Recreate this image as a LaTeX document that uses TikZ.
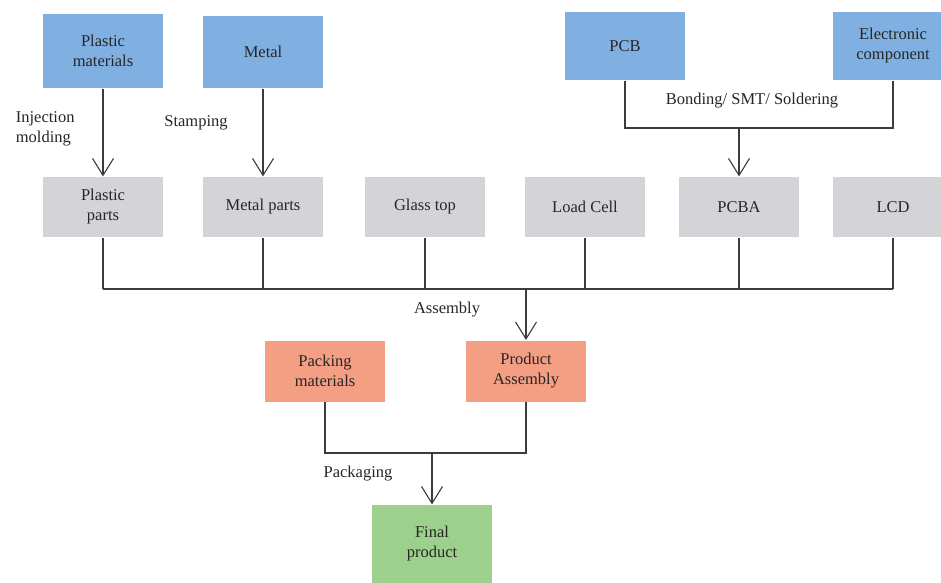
\documentclass[tikz,border=0pt]{standalone}
\usepackage{fontspec}
\setmainfont{Liberation Serif}
\usepackage{xcolor}
\usetikzlibrary{arrows.meta}
\definecolor{rawblue}{RGB}{128,176,226}
\definecolor{partgray}{RGB}{212,212,216}
\definecolor{packred}{RGB}{244,158,132}
\definecolor{donegreen}{RGB}{156,208,140}
\definecolor{linegray}{RGB}{60,60,64}
\tikzset{
  box/.style={minimum width=120pt, align=center, text=black!85, font=\fontsize{16.5}{20}\selectfont},
  raw/.style={box, fill=rawblue},
  part/.style={box, fill=partgray, minimum height=60pt},
  pack/.style={box, fill=packred, minimum height=61pt},
  done/.style={box, fill=donegreen, minimum height=78pt},
  lbl/.style={text=black!85, font=\fontsize{16.5}{20}\selectfont},
  arr/.style={-{Straight Barb[length=17pt,width=21pt]}},
}
\begin{document}
\begin{tikzpicture}[x=1pt, y=-1pt, line width=1.1pt, draw=linegray]
        \clip (0,0) rectangle (941,582);
        \fill[white] (0,0) rectangle (941,582);

        \node[raw, minimum height=74pt] (plmat) at (103,51) {Plastic\\materials};
        \node[raw, minimum height=72pt] (metal) at (263,52) {Metal};
        \node[raw, minimum height=68pt] (pcb) at (625,46) {PCB};
        \node[raw, minimum height=68pt] (elec) at (893,46) {Electronic\\component};

        \node[part] (plparts) at (103,207) {Plastic\\parts};
        \node[part] (metparts) at (263,207) {Metal parts};
        \node[part] (glass) at (425,207) {Glass top};
        \node[part] (loadcell) at (585,207) {Load Cell};
        \node[part] (pcba) at (739,207) {PCBA};
        \node[part] (lcd) at (893,207) {LCD};

        \node[pack] (packmat) at (325,371) {Packing\\materials};
        \node[pack] (prodasm) at (526,371) {Product\\Assembly};
        \node[done] (final) at (432,544) {Final\\product};

        \node[lbl, align=left, anchor=west] (inj) at (12,129) {Injection\\molding};
        \node[lbl] (stamp) at (196,123) {Stamping};
        \node[lbl] (bond) at (752,101) {Bonding/ SMT/ Soldering};
        \node[lbl] (asm) at (447,310) {Assembly};
        \node[lbl] (pkg) at (358,474) {Packaging};

        \coordinate (bj) at (739,128);
        \coordinate (aj) at (526,289);
        \coordinate (pj) at (432,453);

        \draw[arr] (plmat) -- (plparts);
        \draw[arr] (metal) -- (metparts);
        \draw (pcb.south) |- (bj) -| (elec.south);
        \draw[arr] (bj) -- (pcba);

        \foreach \n in {plparts,metparts,glass,loadcell,pcba,lcd}
          \draw (\n.south) -- (\n.south |- aj);
        \draw (plparts.south |- aj) -- (lcd.south |- aj);
        \draw[arr] (aj) -- (prodasm);

        \draw (packmat.south) |- (pj) -| (prodasm.south);
        \draw[arr] (pj) -- (final);
      \end{tikzpicture}
\end{document}
